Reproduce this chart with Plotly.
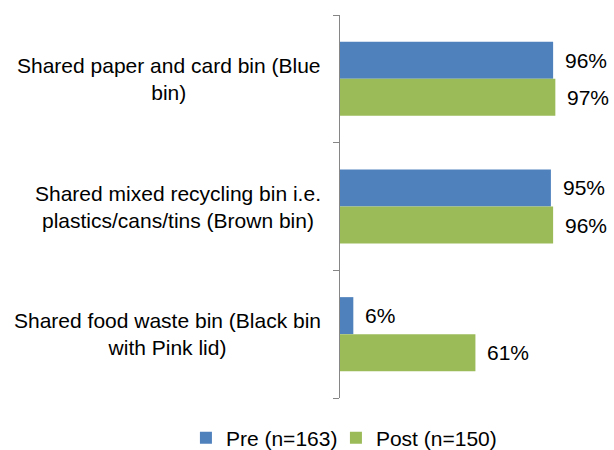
import plotly.graph_objects as go

# Share of respondents using each communal bin, before and after the scheme
categories = [
    "Shared paper and card bin (Blue<br>bin)",
    "Shared mixed recycling bin i.e.<br>plastics/cans/tins (Brown bin)",
    "Shared food waste bin (Black bin<br>with Pink lid)",
]
pre_values = [96, 95, 6]
post_values = [97, 96, 61]
series_names = ["Pre (n=163)", "Post (n=150)"]
series_colors = ["#4F81BD", "#9BBB59"]
legend_widths = [105, None]

FONT = "Liberation Sans, Arial, sans-serif"
cat_idx = list(range(len(categories)))

fig = go.Figure()
for name, vals, col, lw in zip(series_names, [pre_values, post_values],
                               series_colors, legend_widths):
    fig.add_trace(go.Bar(
        y=cat_idx, x=vals, name=name, orientation="h",
        marker=dict(color=col, line=dict(width=0)),
        legendwidth=lw,
    ))

annotations = []
# value labels just right of each bar
half = 0.145
for offs, vals in [(-half, pre_values), (half, post_values)]:
    for i, v in enumerate(vals):
        annotations.append(dict(
            x=v, y=i + offs, xref="x", yref="y", text=f"{v}%",
            showarrow=False, xanchor="left", yanchor="middle", xshift=10,
            font=dict(family=FONT, size=21, color="#000000"),
        ))
# category labels, right-aligned block with centred lines
for i, c in enumerate(categories):
    annotations.append(dict(
        x=0, y=i, xref="paper", yref="y", text=c, showarrow=False,
        xanchor="right", yanchor="middle", align="center", xshift=-17,
        font=dict(family=FONT, size=21, color="#000000"),
    ))

fig.update_layout(
    width=614, height=450,
    margin=dict(l=340, r=52, t=15, b=52, autoexpand=False),
    paper_bgcolor="white", plot_bgcolor="white",
    barmode="group", bargap=0.42, bargroupgap=0,
    font=dict(family=FONT, size=21, color="#000000"),
    showlegend=True,
    legend=dict(
        orientation="h", x=-0.694, xanchor="left", y=-0.105, yanchor="middle",
        font=dict(family=FONT, size=21, color="#000000"),
        tracegroupgap=0, bgcolor="rgba(0,0,0,0)",
    ),
    annotations=annotations,
)
fig.update_xaxes(range=[0, 100], showgrid=False, zeroline=False,
                 showline=False, showticklabels=False, ticks="")
fig.update_yaxes(
    type="linear", range=[2.5, -0.5], tickvals=[-0.5, 0.5, 1.5, 2.5],
    showticklabels=False, ticks="outside", ticklen=6, tickcolor="#868686",
    showgrid=False, zeroline=False, showline=True, linecolor="#868686",
    linewidth=1,
)

fig.write_html("out.html")
